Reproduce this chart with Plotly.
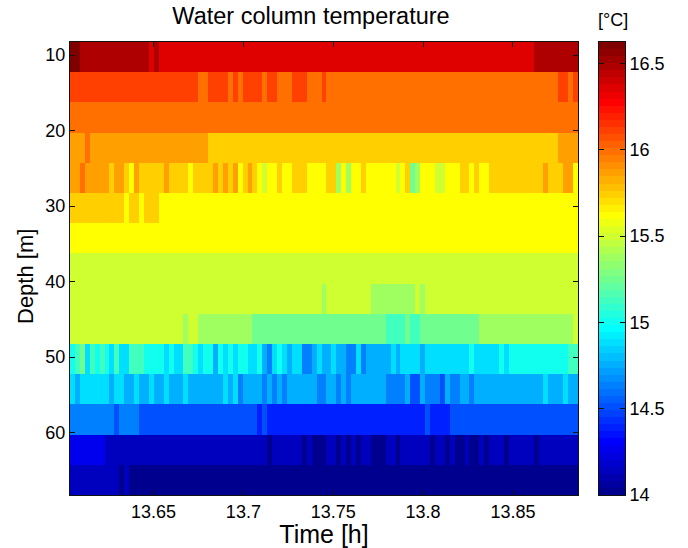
import numpy as np
import plotly.graph_objects as go

# Each depth row is a list of (number of samples, temperature in deg C)
D10 = [(2,16.60),(14,16.48),(1,16.36),(1,16.48),(76,16.36),(9,16.48)]
D14 = [(26,16.11),(2,15.99),(4,16.11),(1,15.99),(1,16.11),(1,15.99),(4,16.11),(1,15.99),(2,16.11),(3,15.99),(3,16.11),(3,15.99),(1,16.11),(47,15.99),(2,16.11),(1,15.99),(1,16.11)]
D18 = [(103,15.99)]
D22 = [(3,15.87),(1,15.99),(24,15.87),(71,15.74),(4,15.87)]
D26 = [(2,15.87),(1,15.99),(5,15.87),(1,15.74),(2,15.87),(1,15.74),(1,15.62),(1,15.87),(5,15.74),(1,15.87),(4,15.74),(1,15.62),(4,15.74),(1,15.87),(1,15.74),(1,15.87),(1,15.74),(1,15.87),(1,15.62),(1,15.74),(1,15.87),(1,15.74),(1,15.62),(1,15.50),(2,15.62),(1,15.74),(2,15.62),(3,15.74),(4,15.62),(2,15.74),(1,15.37),(1,15.62),(1,15.37),(2,15.62),(1,15.74),(6,15.62),(1,15.50),(1,15.62),(1,15.74),(1,15.25),(1,15.37),(3,15.62),(2,15.50),(3,15.62),(2,15.74),(1,15.62),(1,15.74),(2,15.62),(11,15.74),(1,15.87),(3,15.74),(2,15.87),(1,15.62)]
D30 = [(11,15.74),(1,15.62),(2,15.74),(1,15.62),(3,15.74),(85,15.62)]
D34 = [(103,15.62)]
D38 = [(103,15.50)]
D42 = [(51,15.50),(1,15.37),(9,15.50),(9,15.37),(1,15.50),(1,15.37),(31,15.50)]
D46 = [(23,15.50),(1,15.37),(2,15.50),(11,15.37),(27,15.25),(4,15.13),(1,15.25),(2,15.13),(12,15.25),(19,15.37),(1,15.50)]
D50 = [(1,15.00),(1,15.13),(1,15.25),(1,14.88),(1,15.13),(1,15.00),(1,15.13),(1,15.00),(1,14.88),(1,15.13),(2,14.88),(3,15.13),(4,15.00),(1,14.88),(1,15.00),(2,14.88),(2,15.13),(1,15.00),(1,14.88),(2,15.00),(1,14.76),(1,15.00),(1,14.88),(1,15.00),(1,14.88),(2,15.00),(2,14.88),(1,15.00),(1,14.76),(1,14.64),(1,14.88),(1,15.00),(1,14.88),(1,14.76),(2,14.88),(2,14.64),(1,14.76),(1,14.88),(2,14.76),(1,14.88),(2,14.76),(2,14.64),(1,14.88),(1,14.64),(5,14.76),(1,14.88),(1,14.76),(4,14.88),(1,14.76),(9,14.88),(1,15.00),(5,14.88),(1,15.00),(1,14.88),(12,15.00),(2,15.13)]
D54 = [(1,14.88),(1,14.76),(6,14.88),(1,14.76),(2,14.88),(2,14.76),(1,14.88),(2,14.76),(1,14.88),(2,14.76),(1,14.88),(3,14.76),(1,14.88),(7,14.76),(1,14.88),(1,14.76),(1,14.88),(1,14.64),(4,14.76),(1,14.64),(1,14.76),(1,14.64),(1,14.76),(1,14.64),(6,14.76),(2,14.64),(2,14.76),(1,14.64),(1,14.76),(1,14.64),(7,14.76),(4,14.64),(1,14.76),(2,14.51),(1,14.76),(3,14.64),(1,14.51),(1,14.76),(2,14.64),(2,14.76),(1,14.64),(14,14.76),(1,14.88),(3,14.76),(1,14.88),(2,14.76)]
D58 = [(9,14.64),(1,14.51),(4,14.64),(24,14.51),(1,14.39),(1,14.51),(32,14.39),(1,14.51),(4,14.39),(26,14.51)]
D62 = [(7,14.27),(33,14.14),(1,14.02),(6,14.14),(1,14.02),(1,14.14),(3,14.02),(2,14.14),(1,14.02),(1,14.14),(1,14.02),(1,14.14),(1,14.02),(2,14.14),(3,14.02),(2,14.14),(1,14.02),(6,14.14),(1,14.02),(2,14.14),(1,14.02),(1,14.14),(2,14.02),(1,14.14),(2,14.02),(1,14.14),(1,14.02),(3,14.14),(1,14.02),(5,14.14),(1,14.02),(8,14.14)]
D66 = [(10,14.14),(1,14.02),(1,14.14),(91,14.02)]

ROWS = [D10, D14, D18, D22, D26, D30, D34, D38, D42, D46, D50, D54, D58, D62, D66]
DEPTH_FIRST = 10.27
DEPTH_STEP = 4
TIME_START = 13.6035
TIME_STEP = 0.002745
X_TICKS = [13.65, 13.7, 13.75, 13.8, 13.85]
X_LABELS = ["13.65", "13.7", "13.75", "13.8", "13.85"]
Y_TICKS = [10, 20, 30, 40, 50, 60]
CB_TICKS = [14, 14.5, 15, 15.5, 16, 16.5]
CB_LABELS = ["14", "14.5", "15", "15.5", "16", "16.5"]
ZMIN, ZMAX = 14.0, 16.625


def expand(runs):
    out = []
    for n, v in runs:
        out.extend([v] * n)
    return out


z = [expand(r) for r in ROWS]
for d, row in zip(range(len(z)), z):
    if len(row) != 103:
        print("row", d, "has", len(row))
ncol = max(len(r) for r in z)
z = [r + [r[-1]] * (ncol - len(r)) for r in z]
time = [TIME_START + (i + 0.5) * TIME_STEP for i in range(ncol)]
depth = [DEPTH_FIRST + i * DEPTH_STEP for i in range(len(z))]


def jet(n):
    u = np.arange(1, n + 1) / n * 4
    r = np.clip(np.minimum(u - 1.5, 4.5 - u), 0, 1)
    g = np.clip(np.minimum(u - 0.5, 3.5 - u), 0, 1)
    b = np.clip(np.minimum(u + 0.5, 2.5 - u), 0, 1)
    return [f"rgb({int(round(a*255))},{int(round(c*255))},{int(round(d*255))})" for a, c, d in zip(r, g, b)]


cols = jet(64)
scale = []
for k, c in enumerate(cols):
    scale.append([k / 64, c])
    scale.append([(k + 1) / 64, c])

FONT = "Liberation Sans, Arial, sans-serif"
INK = "#111111"
PLOT_H = 453

fig = go.Figure()
fig.add_trace(go.Heatmap(x=time, y=depth, z=z, colorscale=scale, zmin=ZMIN, zmax=ZMAX,
                         showscale=False, xaxis="x", yaxis="y", hoverongaps=False))
# colour key drawn on its own small axes so it has ticks on both edges
step = (ZMAX - ZMIN) / 64
key_y = [ZMIN + (k + 0.5) * step for k in range(64)]
fig.add_trace(go.Heatmap(x=[0], y=key_y, z=[[v] for v in key_y], colorscale=scale, zmin=ZMIN, zmax=ZMAX,
                         showscale=False, xaxis="x2", yaxis="y2"))

axis = dict(showgrid=False, zeroline=False, showline=True, linecolor=INK, linewidth=1,
            ticks="inside", ticklen=5, tickwidth=1, tickcolor=INK, automargin=False,
            tickfont=dict(family=FONT, size=18, color="#000000"))

fig.update_layout(
    width=688, height=548, autosize=False,
    paper_bgcolor="white", plot_bgcolor="white",
    margin=dict(l=70, r=63, t=42, b=53),
    font=dict(family=FONT, color="#000000"),
    title=dict(text="Water column temperature", x=311 / 688, xanchor="center", xref="container",
               y=1 - 16 / 548, yanchor="middle", yref="container", font=dict(size=23.5, family=FONT)),
    xaxis=dict(axis, domain=[0, 508 / 555], range=[TIME_START, TIME_START + 103 * TIME_STEP],
               tickvals=X_TICKS, ticktext=X_LABELS, mirror="ticks", anchor="y",
               title=dict(text="Time [h]", font=dict(size=25, family=FONT), standoff=6)),
    yaxis=dict(axis, domain=[0, 1], range=[DEPTH_FIRST - 2 + 60, DEPTH_FIRST - 2],
               tickvals=Y_TICKS, mirror="ticks", anchor="x"),
    xaxis2=dict(domain=[529 / 555, 1], range=[-0.5, 0.5], showticklabels=False, ticks="",
                showgrid=False, zeroline=False, showline=True, linecolor=INK, linewidth=1,
                mirror=True, anchor="y2", automargin=False),
    yaxis2=dict(axis, domain=[0, 1], range=[ZMIN, ZMAX], side="right", anchor="x2", mirror="ticks",
                tickvals=CB_TICKS, ticktext=CB_LABELS),
    annotations=[
        dict(text="[°C]", xref="paper", yref="paper", x=(613 - 70) / 555, y=1 + 22 / PLOT_H,
             xanchor="center", yanchor="middle", showarrow=False, font=dict(size=18, family=FONT)),
        dict(text="Depth [m]", xref="paper", yref="paper", x=(25 - 70) / 555, y=1 - (277 - 42) / PLOT_H,
             xanchor="center", yanchor="middle", textangle=-90, showarrow=False,
             font=dict(size=22, family=FONT)),
    ],
)
fig.write_html("out.html", config={"displayModeBar": False},
               post_script="document.body.style.margin='0';document.documentElement.style.overflow='hidden';")
